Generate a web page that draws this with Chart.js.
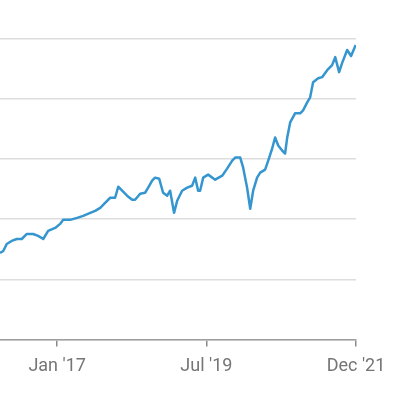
<!DOCTYPE html>
<html>
<head>
<meta charset="utf-8">
<script src="https://cdn.jsdelivr.net/npm/chart.js@4/dist/chart.umd.min.js"></script>
<style>
  html, body { margin: 0; padding: 0; background: #fff; }
  #wrap { width: 400px; height: 400px; }
</style>
</head>
<body>
<div id="wrap"><canvas id="c" width="400" height="400"></canvas></div>
<script>
// dates and closing values
const dates = [
  '2016-01-18', '2016-02-07', '2016-02-28', '2016-03-29', '2016-04-30', '2016-05-30',
  '2016-06-30', '2016-08-07', '2016-09-07', '2016-10-08', '2016-11-07', '2016-12-20',
  '2017-01-19', '2017-02-07', '2017-03-21', '2017-05-03', '2017-06-09', '2017-07-22',
  '2017-08-21', '2017-09-21', '2017-10-21', '2017-11-21', '2017-12-21', '2018-01-09',
  '2018-02-02', '2018-03-04', '2018-04-04', '2018-04-22', '2018-05-23', '2018-06-22',
  '2018-07-11', '2018-08-04', '2018-08-22', '2018-09-16', '2018-10-10', '2018-11-04',
  '2018-11-22', '2018-12-16', '2019-01-04', '2019-02-03', '2019-03-06', '2019-04-05',
  '2019-04-24', '2019-05-12', '2019-05-24', '2019-06-12', '2019-07-12', '2019-08-24',
  '2019-10-06', '2019-11-05', '2019-12-06', '2019-12-24', '2020-01-24', '2020-02-11',
  '2020-03-06', '2020-03-25', '2020-04-12', '2020-05-06', '2020-05-25', '2020-06-24',
  '2020-07-13', '2020-08-06', '2020-08-24', '2020-09-12', '2020-10-06', '2020-10-24',
  '2020-11-06', '2020-11-24', '2020-12-24', '2021-01-24', '2021-02-11', '2021-03-08',
  '2021-03-26', '2021-04-13', '2021-05-14', '2021-06-07', '2021-07-08', '2021-08-07',
  '2021-08-26', '2021-09-19', '2021-10-07', '2021-11-07', '2021-12-01', '2021-12-29'
];
const values = [
  1950, 1977, 2070, 2111, 2137, 2137,
  2204, 2204, 2178, 2137, 2244, 2284,
  2338, 2392, 2392, 2418, 2445, 2485,
  2512, 2552, 2619, 2686, 2686, 2833,
  2780, 2713, 2659, 2659, 2740, 2753,
  2820, 2913, 2954, 2940, 2753, 2713,
  2780, 2485, 2646, 2780, 2820, 2846,
  2954, 2780, 2780, 2954, 2994, 2927,
  2980, 3074, 3181, 3221, 3221, 3087,
  2820, 2539, 2780, 2954, 3020, 3061,
  3181, 3342, 3489, 3382, 3315, 3275,
  3489, 3689, 3810, 3810, 3850, 3957,
  4024, 4225, 4278, 4292, 4385, 4452,
  4559, 4359, 4479, 4653, 4573, 4720
];
const tickDates = ['2017-01-01', '2019-07-01', '2021-12-31'];
const tickLabels = ["Jan '17", "Jul '19", "Dec '21"];
const xStart = '2016-01-18';
const xEnd = '2021-12-31';

const tickValues = tickDates.map(d => Date.parse(d));
const points = dates.map((d, i) => ({ x: Date.parse(d), y: values[i] }));

new Chart(document.getElementById('c').getContext('2d'), {
  type: 'line',
  data: {
    datasets: [{
      data: points,
      borderColor: '#3596cf',
      borderWidth: 2.5,
      pointRadius: 0,
      tension: 0,
      borderJoinStyle: 'round',
      fill: false
    }]
  },
  options: {
    responsive: false,
    animation: false,
    layout: { padding: { top: 39, right: 44, left: 0, bottom: 14 } },
    plugins: { legend: { display: false }, tooltip: { enabled: false } },
    scales: {
      x: {
        type: 'linear',
        min: Date.parse(xStart),
        max: Date.parse(xEnd),
        afterBuildTicks: s => { s.ticks = tickValues.map(v => ({ value: v })); },
        ticks: {
          autoSkip: false,
          maxRotation: 0,
          padding: 9,
          color: '#757575',
          font: { family: 'Roboto', size: 18 },
          callback: v => tickLabels[tickValues.indexOf(v)]
        },
        grid: { drawOnChartArea: false, tickLength: 7, color: '#8a8a8a', lineWidth: 1.5 },
        border: { color: '#9e9e9e', width: 1.5 }
      },
      y: {
        min: 800,
        max: 4800,
        ticks: { display: false, stepSize: 800 },
        grid: { color: '#dddddd', lineWidth: 1.5, drawTicks: false },
        border: { display: false },
        afterFit: s => { s.width = 0; }
      }
    }
  }
});
</script>
</body>
</html>
